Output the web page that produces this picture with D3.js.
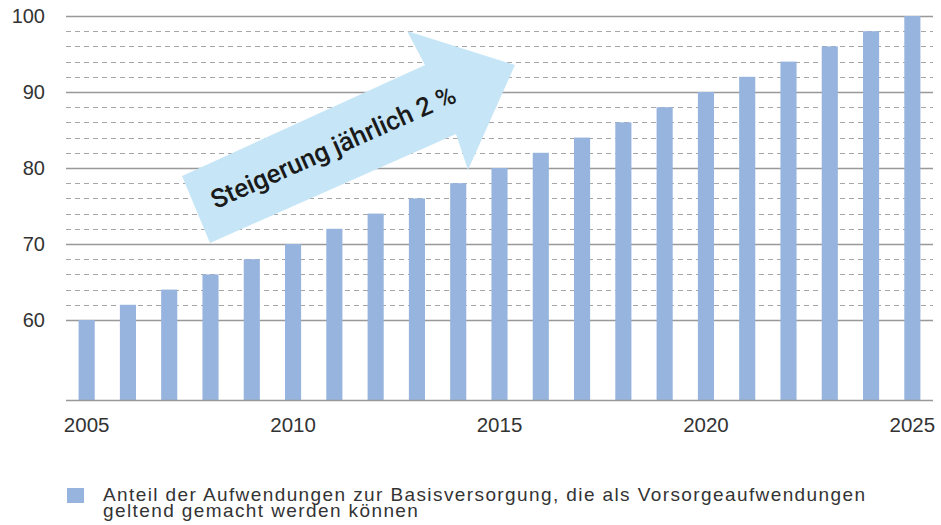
<!DOCTYPE html>
<html>
<head>
<meta charset="utf-8">
<script src="https://cdn.jsdelivr.net/npm/d3@7"></script>
<style>
	body { margin: 0; background: #fff; }
	text { font-family: "Liberation Sans", Arial, sans-serif; fill: #333; }
</style>
</head>
<body>
<div id="chart"></div>
<script>
var years = [2005, 2006, 2007, 2008, 2009, 2010, 2011, 2012, 2013, 2014, 2015,
	2016, 2017, 2018, 2019, 2020, 2021, 2022, 2023, 2024, 2025];
var shares = [60, 62, 64, 66, 68, 70, 72, 74, 76, 78, 80,
	82, 84, 86, 88, 90, 92, 94, 96, 98, 100];
var yearLabels = [2005, 2010, 2015, 2020, 2025];
var yTicks = [60, 70, 80, 90, 100];
var minorTicks = [62, 64, 66, 68, 72, 74, 76, 78, 82, 84, 86, 88, 92, 94, 96, 98];
var legendLines = ["Anteil der Aufwendungen zur Basisversorgung, die als Vorsorgeaufwendungen",
	"geltend gemacht werden können"];
var arrowText = "Steigerung jährlich 2 %";

function init() {
	var w = 941;
	var h = 525;
	var left = 66, right = 933, top = 16, bottom = 400;

	var svg = d3.select("#chart")
		.append("svg")
		.attr("width", w)
		.attr("height", h);

	var x = d3.scaleBand()
		.domain(years)
		.range([left, right])
		.paddingInner(0.61)
		.paddingOuter(0.305);

	var y = d3.scaleLinear()
		.domain([49.47, 100])
		.range([bottom, top]);

	// dashed minor grid
	svg.append("g")
		.selectAll("line")
		.data(minorTicks)
		.join("line")
			.attr("x1", left)
			.attr("x2", right)
			.attr("y1", d => Math.round(y(d)) + 0.5)
			.attr("y2", d => Math.round(y(d)) + 0.5)
			.attr("stroke", "#a6a6a6")
			.attr("stroke-width", 1.2)
			.attr("stroke-dasharray", "5,4");

	// solid major grid
	svg.append("g")
		.selectAll("line")
		.data(yTicks)
		.join("line")
			.attr("x1", left)
			.attr("x2", right)
			.attr("y1", d => Math.round(y(d)) + 0.5)
			.attr("y2", d => Math.round(y(d)) + 0.5)
			.attr("stroke", "#999")
			.attr("stroke-width", 1.5);

	// arrow annotation (drawn under the bars)
	var arrowPts = [[182, 176], [425, 65], [407, 31], [515, 65], [468, 170], [456, 134], [210, 243]];
	svg.append("polygon")
		.attr("points", arrowPts.map(p => p.join(",")).join(" "))
		.attr("fill", "#c6e6f7");

	svg.append("g")
		.selectAll("rect")
		.data(years.map((yr, i) => ({ year: yr, value: shares[i] })))
		.join("rect")
			.attr("x", d => x(d.year))
			.attr("y", d => y(d.value))
			.attr("width", x.bandwidth())
			.attr("height", d => y.range()[0] - y(d.value))
			.attr("fill", "#96b4de");

	svg.append("text")
		.attr("transform", "translate(334,149) rotate(-24)")
		.attr("text-anchor", "middle")
		.attr("dominant-baseline", "middle")
		.style("font-family", "Roboto, 'Liberation Sans', sans-serif")
		.style("font-weight", 500)
		.style("font-size", "26px")
		.style("fill", "#1a1a1a")
		.text(arrowText);

	// baseline
	svg.append("line")
		.attr("x1", left)
		.attr("x2", right)
		.attr("y1", bottom + 0.5)
		.attr("y2", bottom + 0.5)
		.attr("stroke", "#999")
		.attr("stroke-width", 1.5);

	var xAxis = svg.append("g")
		.attr("transform", `translate(0,${bottom})`)
		.call(d3.axisBottom(x).tickValues(yearLabels).tickSize(0).tickPadding(17))
		.call(g => g.select(".domain").remove());
	xAxis.selectAll("text")
		.style("font-size", "20.5px")
		.style("font-family", "'Liberation Sans', Arial, sans-serif")
		.attr("fill", "#333");

	var yAxis = svg.append("g")
		.attr("transform", `translate(45,0)`)
		.call(d3.axisLeft(y).tickValues(yTicks).tickSize(0).tickPadding(0))
		.call(g => g.select(".domain").remove());
	yAxis.selectAll("text")
		.style("font-size", "20px")
		.style("font-family", "'Liberation Sans', Arial, sans-serif")
		.attr("fill", "#333");

	// legend
	svg.append("rect")
		.attr("x", 67)
		.attr("y", 488)
		.attr("width", 17)
		.attr("height", 15)
		.attr("fill", "#96b4de");

	svg.append("g")
		.selectAll("text")
		.data(legendLines)
		.join("text")
			.attr("x", 103)
			.attr("y", (d, i) => 501 + i * 16)
			.style("font-size", "19px")
			.style("letter-spacing", "1.4px")
			.text(d => d);
}

window.onload = init;
</script>
</body>
</html>
